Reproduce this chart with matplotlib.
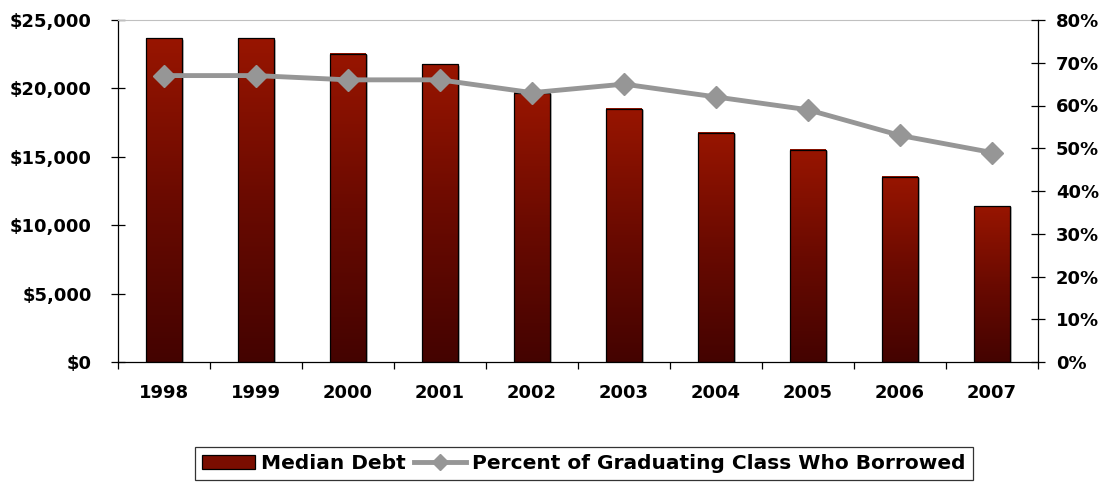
import numpy as np
import matplotlib
matplotlib.use('Agg')
import matplotlib.pyplot as plt
from matplotlib.colors import LinearSegmentedColormap
from matplotlib.patches import Patch
from matplotlib.lines import Line2D

plt.rcParams['font.family'] = ['DejaVu Sans']
plt.rcParams['font.weight'] = 'bold'

# data
years = ['1998', '1999', '2000', '2001', '2002', '2003', '2004', '2005', '2006', '2007']
median_debt = [23650, 23650, 22550, 21750, 19700, 18520, 16750, 15530, 13540, 11400]
pct_borrowed = [0.67, 0.67, 0.66, 0.66, 0.63, 0.65, 0.62, 0.59, 0.53, 0.49]
debt_ticks = [0, 5000, 10000, 15000, 20000, 25000]
debt_labels = ['$0', '$5,000', '$10,000', '$15,000', '$20,000', '$25,000']
pct_ticks = [0, 0.1, 0.2, 0.3, 0.4, 0.5, 0.6, 0.7, 0.8]
pct_labels = ['0%', '10%', '20%', '30%', '40%', '50%', '60%', '70%', '80%']

W, H = 1105, 482
fig = plt.figure(figsize=(W / 100, H / 100), dpi=100)
ax = fig.add_axes([118 / W, 1 - 362 / H, 920 / W, 342 / H])

x = np.arange(len(years))
bw = 0.39

# vertical gradient per bar, bright red at top fading to dark maroon
cmap = LinearSegmentedColormap.from_list('bar', ['#440300', '#6a0a00', '#981500'])
grad = np.linspace(0, 1, 256).reshape(-1, 1)
for xi, h in zip(x, median_debt):
    ax.imshow(grad, extent=[xi - bw / 2, xi + bw / 2, 0, h], origin='lower',
              aspect='auto', cmap=cmap, zorder=2, interpolation='bilinear')
    # faint grey shadow on the right edge
    ax.plot([xi + bw / 2 + 0.012, xi + bw / 2 + 0.012], [0, h - 150],
            color='#b0b0b0', lw=1.2, zorder=1.5)
ax.bar(x, median_debt, width=bw, facecolor='none', edgecolor='black', lw=0.9, zorder=3)

ax.set_xlim(-0.5, len(years) - 0.5)
ax.set_ylim(0, 25000)
ax.set_yticks(debt_ticks)
ax.set_yticklabels(debt_labels)
ax.tick_params(axis='y', direction='inout', length=10, width=0.9, pad=14, labelsize=13)

# ticks at category boundaries, labels at centres
ax.set_xticks(np.arange(-0.5, len(years), 1.0))
ax.set_xticklabels([])
ax.tick_params(axis='x', which='major', direction='out', length=5, width=0.9)
ax.set_xticks(x, minor=True)
ax.set_xticklabels(years, minor=True)
ax.tick_params(axis='x', which='minor', length=0, pad=16, labelsize=13)

ax.spines['top'].set_color('#c0c0c0')
ax.spines['right'].set_visible(False)
for s in ['left', 'bottom']:
    ax.spines[s].set_linewidth(0.9)

ax2 = ax.twinx()
ax2.plot(x, pct_borrowed, color='#969696', lw=3.5, marker='D', ms=11,
         mfc='#969696', mec='#969696', zorder=4)
ax2.set_ylim(0, 0.8)
ax2.set_yticks(pct_ticks)
ax2.set_yticklabels(pct_labels)
ax2.tick_params(axis='y', direction='inout', length=10, width=0.9, pad=8, labelsize=13)
ax2.spines['top'].set_visible(False)
ax2.spines['left'].set_visible(False)
ax2.spines['bottom'].set_visible(False)
ax2.spines['right'].set_linewidth(0.9)

handles = [Patch(facecolor='#7a0d00', edgecolor='black', lw=0.9),
           Line2D([], [], color='#969696', lw=3.5, marker='D', ms=8)]
leg = fig.legend(handles, ['Median Debt', 'Percent of Graduating Class Who Borrowed'],
                 loc='upper center', bbox_to_anchor=(584 / W, 1 - 447 / H), ncol=2,
                 frameon=True, fancybox=False, edgecolor='black',
                 prop={'size': 14.5, 'weight': 'bold'}, handlelength=2.6,
                 handletextpad=0.3, columnspacing=0.4, borderpad=0.35,
                 borderaxespad=0)
leg.get_frame().set_linewidth(0.9)

fig.savefig('out.png', dpi=100)
